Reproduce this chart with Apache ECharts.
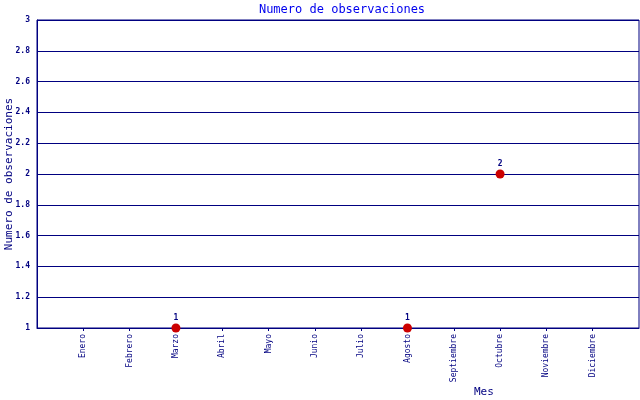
<!DOCTYPE html>
<html>
<head>
<meta charset="utf-8">
<script src="https://cdn.jsdelivr.net/npm/echarts@6/dist/echarts.min.js"></script>
<style>
  html, body { margin: 0; padding: 0; background: #fff; }
  #chart { width: 640px; height: 400px; }
</style>
</head>
<body>
<div id="chart"></div>
<script>
// meses y numero de observaciones (null = sin dato)
var meses = ['Enero', 'Febrero', 'Marzo', 'Abril', 'Mayo', 'Junio', 'Julio',
  'Agosto', 'Septiembre', 'Octubre', 'Noviembre', 'Diciembre'];
var observaciones = [null, null, 1, null, null, null, null, 1, null, 2, null, null];
var yMin = 1, yMax = 3, yStep = 0.2;

// one empty slot on each side so the months sit between the edges
var categorias = [''].concat(meses, ['']);
var datos = [null].concat(observaciones, [null]);

var navy = '#000080';
var mono = 'DejaVu Sans Mono';

var myChart = echarts.init(document.getElementById('chart'));
myChart.setOption({
  animation: false,
  title: {
    text: 'Numero de observaciones',
    left: 337, top: -1, textAlign: 'center',
    textStyle: { color: '#0000ee', fontFamily: mono, fontSize: 12, fontWeight: 'normal' }
  },
  grid: {
    left: 37, right: 1, top: 20, bottom: 72,
    outerBoundsMode: 'none', containLabel: false,
    show: true, borderColor: navy, borderWidth: 1
  },
  xAxis: {
    type: 'category',
    data: categorias,
    boundaryGap: false,
    axisLine: { lineStyle: { color: navy } },
    axisTick: {
      length: 3, lineStyle: { color: navy },
      interval: function (i, v) { return v !== ''; }
    },
    axisLabel: {
      interval: 0, rotate: 90, margin: 6,
      color: navy, fontFamily: mono, fontSize: 8
    },
    splitLine: { show: false }
  },
  yAxis: {
    type: 'value',
    min: yMin, max: yMax, interval: yStep,
    axisLine: { show: true, lineStyle: { color: navy } },
    axisTick: { show: false },
    axisLabel: { margin: 7, color: navy, fontFamily: mono, fontSize: 8, fontWeight: 'bold' },
    splitLine: { lineStyle: { color: navy, width: 1 } }
  },
  graphic: [{
    type: 'text', x: 9, y: 174, rotation: Math.PI / 2,
    style: {
      text: 'Numero de observaciones', fill: navy,
      font: '11px "DejaVu Sans Mono"', align: 'center', verticalAlign: 'middle'
    }
  }, {
    type: 'text', left: 474, top: 387,
    style: { text: 'Mes', fill: navy, font: '11px "DejaVu Sans Mono"' }
  }],
  series: [{
    type: 'scatter',
    data: datos,
    symbolSize: 9,
    itemStyle: { color: '#cc0000', opacity: 1 },
    emphasis: { disabled: true },
    label: {
      show: true, position: 'top', distance: 2,
      color: navy, fontFamily: mono, fontSize: 8, fontWeight: 'bold'
    }
  }]
});
</script>
</body>
</html>
